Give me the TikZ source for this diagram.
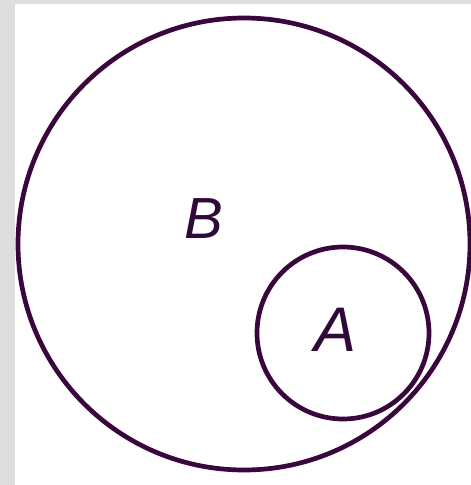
\documentclass[tikz,border=0pt]{standalone}
\usepackage{fontspec}
\setmainfont{Liberation Sans}
\definecolor{ink}{RGB}{58,6,62}
\definecolor{txt}{RGB}{45,10,55}
\definecolor{frame}{RGB}{222,222,222}
\begin{document}
\begin{tikzpicture}[x=1pt,y=-1pt,
  setcircle/.style={draw=ink,line width=4.7pt,circle,inner sep=0pt},
  setlabel/.style={text=txt,font=\itshape,inner sep=0pt}]
\useasboundingbox (0,0) rectangle (471,485);
\fill[frame] (0,0) rectangle (471,485);
\fill[white] (15,4) rectangle (471,485);
\node[setcircle,minimum size=452pt] (B) at (244,244) {};
\node[setcircle,minimum size=172pt] (A) at (343,333) {};
\node[setlabel,font=\fontsize{58}{58}\selectfont\itshape] (Bl) at (204,219) {B};
\node[setlabel,font=\fontsize{63}{63}\selectfont\itshape] (Al) at (336,330) {A};
\end{tikzpicture}
\end{document}
